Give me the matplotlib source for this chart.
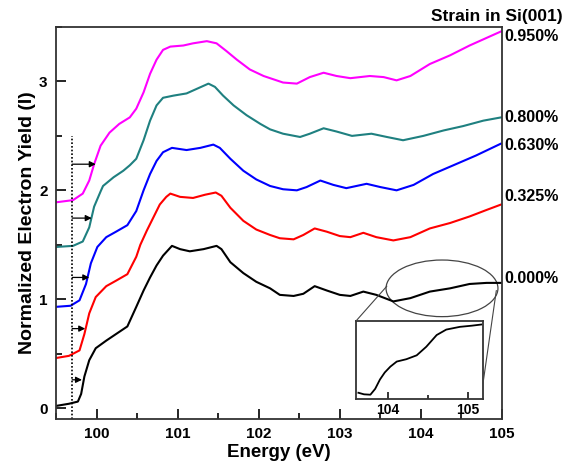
import matplotlib
matplotlib.use("Agg")
import matplotlib.pyplot as plt
from matplotlib.patches import Ellipse, ConnectionPatch
from matplotlib.ticker import MultipleLocator

plt.rcParams['font.family'] = ['Liberation Sans', 'DejaVu Sans']
plt.rcParams['font.weight'] = 'bold'

# ---- data ----
x_black = [99.5, 99.66, 99.77, 99.81, 99.85, 99.91, 99.99, 100.12, 100.24, 100.38, 100.49, 100.58,
           100.66, 100.74, 100.82, 100.93, 101.03, 101.15, 101.32, 101.48, 101.54, 101.65, 101.81,
           101.97, 102.14, 102.26, 102.43, 102.55, 102.69, 102.84, 103.0, 103.13, 103.29, 103.45,
           103.66, 103.87, 104.11, 104.36, 104.6, 104.81, 104.99]
y_black = [0.02, 0.04, 0.06, 0.13, 0.29, 0.44, 0.55, 0.62, 0.68, 0.75, 0.93, 1.08,
           1.20, 1.31, 1.40, 1.49, 1.46, 1.44, 1.46, 1.49, 1.46, 1.34, 1.24,
           1.16, 1.10, 1.04, 1.03, 1.05, 1.12, 1.08, 1.04, 1.03, 1.07, 1.04,
           0.98, 1.01, 1.07, 1.10, 1.14, 1.15, 1.15]

x_red = [99.5, 99.66, 99.79, 99.85, 99.91, 99.99, 100.12, 100.24, 100.38, 100.49, 100.54, 100.62,
         100.70, 100.78, 100.86, 100.91, 101.03, 101.19, 101.34, 101.47, 101.54, 101.65, 101.81,
         101.97, 102.14, 102.26, 102.43, 102.55, 102.69, 102.84, 103.0, 103.13, 103.29, 103.45,
         103.66, 103.87, 104.11, 104.36, 104.6, 104.81, 104.99]
y_red = [0.46, 0.48, 0.53, 0.68, 0.87, 1.02, 1.12, 1.17, 1.23, 1.39, 1.50, 1.63,
         1.75, 1.87, 1.94, 1.97, 1.94, 1.93, 1.96, 1.98, 1.95, 1.84, 1.72,
         1.64, 1.59, 1.56, 1.55, 1.59, 1.65, 1.62, 1.58, 1.57, 1.61, 1.57,
         1.54, 1.57, 1.65, 1.70, 1.76, 1.82, 1.87]

x_blue = [99.5, 99.68, 99.79, 99.87, 99.93, 100.01, 100.12, 100.24, 100.38, 100.49, 100.58, 100.66,
          100.74, 100.82, 100.93, 101.11, 101.28, 101.44, 101.52, 101.65, 101.81, 101.97, 102.14,
          102.3, 102.47, 102.59, 102.76, 102.92, 103.08, 103.33, 103.5, 103.7, 103.91, 104.15,
          104.4, 104.68, 104.99]
y_blue = [0.93, 0.94, 0.99, 1.14, 1.33, 1.48, 1.57, 1.62, 1.68, 1.81, 2.00, 2.15,
          2.27, 2.35, 2.39, 2.37, 2.39, 2.42, 2.39, 2.29, 2.18, 2.10, 2.04,
          2.01, 2.00, 2.03, 2.09, 2.05, 2.02, 2.06, 2.03, 2.00, 2.05, 2.15,
          2.23, 2.32, 2.43]

x_teal = [99.5, 99.71, 99.83, 99.91, 99.97, 100.05, 100.08, 100.21, 100.33, 100.41, 100.49, 100.58,
          100.66, 100.74, 100.82, 100.95, 101.11, 101.23, 101.38, 101.46, 101.56, 101.69, 101.85,
          102.02, 102.14, 102.3, 102.51, 102.63, 102.8, 102.96, 103.15, 103.39, 103.58, 103.78,
          104.03, 104.28, 104.52, 104.77, 104.99]
y_teal = [1.48, 1.49, 1.53, 1.66, 1.85, 1.99, 2.04, 2.12, 2.18, 2.23, 2.29, 2.46,
          2.64, 2.78, 2.85, 2.87, 2.89, 2.93, 2.98, 2.95, 2.87, 2.78, 2.69,
          2.61, 2.56, 2.52, 2.49, 2.52, 2.57, 2.54, 2.50, 2.52, 2.49, 2.46,
          2.50, 2.55, 2.59, 2.64, 2.67]

x_mag = [99.5, 99.71, 99.83, 99.91, 99.97, 100.05, 100.16, 100.28, 100.41, 100.49, 100.58, 100.66,
         100.74, 100.82, 100.91, 101.07, 101.19, 101.36, 101.48, 101.60, 101.73, 101.89, 102.06,
         102.3, 102.47, 102.63, 102.8, 102.96, 103.13, 103.37, 103.54, 103.7, 103.87, 104.11,
         104.36, 104.6, 104.81, 104.99]
y_mag = [1.89, 1.91, 1.97, 2.09, 2.24, 2.41, 2.53, 2.61, 2.67, 2.75, 2.90, 3.07,
         3.20, 3.29, 3.32, 3.33, 3.35, 3.37, 3.35, 3.28, 3.20, 3.11, 3.05,
         2.99, 2.98, 3.04, 3.08, 3.05, 3.03, 3.05, 3.04, 3.01, 3.05, 3.16,
         3.24, 3.33, 3.40, 3.46]

strain_labels = ['0.000%', '0.325%', '0.630%', '0.800%', '0.950%']
label_y = [1.19, 1.94, 2.41, 2.67, 3.41]
colors = ['#000000', '#ff0000', '#0000ff', '#1f8080', '#ff00ff']

# arrows: (tip x, y)
arrow_tip_x = [99.82, 99.86, 99.91, 99.94, 99.99]
arrow_y = [0.26, 0.73, 1.20, 1.745, 2.24]
dotted_x = 99.7

# inset (zoomed black curve, normalized units)
x_inset = [103.63, 103.70, 103.78, 103.84, 103.90, 103.96, 104.03, 104.11, 104.23, 104.36, 104.48,
           104.61, 104.73, 104.90, 105.05, 105.17]
y_inset = [0.08, 0.06, 0.055, 0.13, 0.25, 0.34, 0.415, 0.48, 0.51, 0.56, 0.67,
           0.82, 0.89, 0.925, 0.94, 0.955]

fig = plt.figure(figsize=(5.73, 4.68), dpi=100)
ax = fig.add_axes([56/573, 1-419/468, 446/573, 392/468])

series = [(x_black, y_black), (x_red, y_red), (x_blue, y_blue), (x_teal, y_teal), (x_mag, y_mag)]
for (xs, ys), c in zip(series, colors):
    ax.plot(xs, ys, color=c, lw=1.5, solid_joinstyle='round', solid_capstyle='round')

ax.set_xlim(99.5, 105)
ax.set_ylim(-0.1, 3.5)
ax.xaxis.set_major_locator(MultipleLocator(1))
ax.xaxis.set_minor_locator(MultipleLocator(0.5))
ax.yaxis.set_major_locator(MultipleLocator(1))
ax.yaxis.set_minor_locator(MultipleLocator(0.5))
ax.tick_params(which='both', direction='in', width=1.2)
ax.tick_params(which='major', length=7, labelsize=11, pad=6)
ax.tick_params(which='minor', length=4)
for lab in ax.get_xticklabels() + ax.get_yticklabels():
    lab.set_fontweight('bold')
for sp in ax.spines.values():
    sp.set_linewidth(1.3)
    sp.set_color('#333333')

ax.set_xlabel('Energy (eV)', fontsize=13.5, fontweight='bold', labelpad=2)
ax.set_ylabel('Normalized Electron Yield (I)', fontsize=14, fontweight='bold', labelpad=2)

# dotted reference line and arrows
ax.plot([dotted_x, dotted_x], [-0.1, 2.5], color='black', lw=1.2, ls=(0, (1, 1.2)))
for tx, ay in zip(arrow_tip_x, arrow_y):
    ax.annotate('', xy=(tx, ay), xytext=(dotted_x, ay),
                arrowprops=dict(arrowstyle='-|>', color='black', lw=0.9,
                                mutation_scale=9, shrinkA=0, shrinkB=0))

# labels at right
for lab, ly in zip(strain_labels, label_y):
    ax.text(1.005, (ly + 0.1) / 3.6, lab, transform=ax.transAxes, ha='left', va='center',
            fontsize=11.5, fontweight='bold')
fig.text(563/573, 1-17/468, 'Strain in Si(001)', ha='right', va='center',
         fontsize=12.5, fontweight='bold')

# ellipse
ell = Ellipse((104.26, 1.10), 1.38, 0.52, fill=False, edgecolor='#444444', lw=0.9)
ax.add_patch(ell)

# inset
axins = fig.add_axes([356/573, 1-399/468, 127/573, 78/468])
axins.plot(x_inset, y_inset, color='black', lw=1.3)
axins.set_xlim(103.6, 105.19)
axins.set_ylim(0, 1)
axins.xaxis.set_major_locator(MultipleLocator(1))
axins.xaxis.set_minor_locator(MultipleLocator(0.5))
axins.set_yticks([])
axins.tick_params(which='both', direction='in', width=1.1)
axins.tick_params(which='major', length=5, labelsize=10, pad=3)
axins.tick_params(which='minor', length=3)
for lab in axins.get_xticklabels():
    lab.set_fontweight('bold')
for sp in axins.spines.values():
    sp.set_linewidth(1.3)
    sp.set_color('#333333')

con1 = ConnectionPatch(xyA=(103.58, 1.12), coordsA=ax.transData,
                       xyB=(0, 1), coordsB=axins.transAxes, color='#444444', lw=0.8)
con2 = ConnectionPatch(xyA=(104.93, 1.08), coordsA=ax.transData,
                       xyB=(1, 0.2), coordsB=axins.transAxes, color='#444444', lw=0.8)
fig.add_artist(con1)
fig.add_artist(con2)

fig.savefig('out.png', dpi=100)
